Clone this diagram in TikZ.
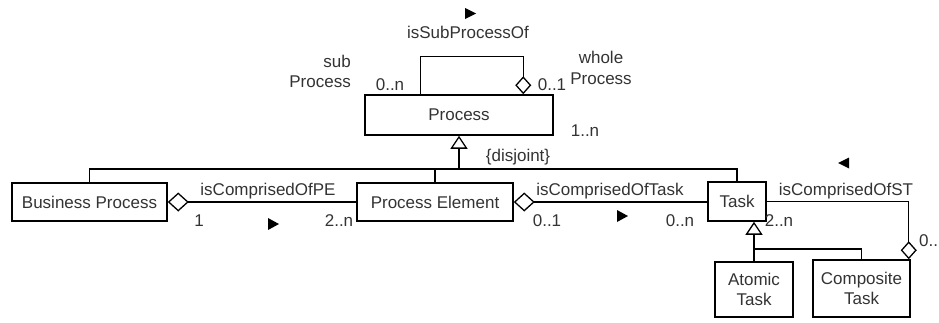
\documentclass[tikz,border=0pt]{standalone}
\usepackage{fontspec}
\setmainfont{Liberation Sans}
\usetikzlibrary{arrows.meta,calc}
\definecolor{txt}{gray}{0.2}
\tikzset{
  aggtip/.tip={Diamond[open, fill=white, length=21pt, width=19pt]},
  aggstip/.tip={Diamond[open, fill=white, length=18pt, width=16pt]},
  gentip/.tip={Triangle[open, fill=white, length=13pt, width=17pt]}
}
\begin{document}
\begin{tikzpicture}[x=1pt,y=-1pt,
  font=\fontsize{17}{20.5}\selectfont,
  cls/.style={draw, line width=1.5pt, rectangle, inner sep=0pt, align=center, text=txt},
  lbl/.style={inner sep=0pt, align=center, text=txt},
  conn/.style={line width=1.3pt}
]
\useasboundingbox (0,0) rectangle (939,322);

% classes
\node[cls, minimum width=188pt, minimum height=40pt] (proc) at (459,115) {Process};
\node[cls, minimum width=155pt, minimum height=38pt] (bp) at (89.5,202) {Business Process};
\node[cls, minimum width=156pt, minimum height=38pt] (pe) at (435,202) {Process Element};
\node[cls, minimum width=58pt, minimum height=39pt] (task) at (737,201.5) {Task};
\node[cls, minimum width=78pt, minimum height=55pt] (atomic) at (754,289.5) {Atomic\\Task};
\node[cls, minimum width=97pt, minimum height=57pt] (comp) at (861.5,288.5) {Composite\\Task};

% recursive aggregation on Process
\draw[conn, -aggstip] ([xshift=56pt]proc.north west) -- ++(0,-38)
  -| ([xshift=159pt]proc.north west);

% generalization of Process
\coordinate (bar) at (0,169);
\draw[conn] (bp.north) |- (bar -| task.north) -- (task.north);
\draw[conn] (pe.north) -- (pe.north |- bar);
\draw[conn, -gentip] (proc.south |- bar) -- (proc.south);

% aggregations
\draw[conn, aggtip-] (bp.east) -- (pe.west);
\draw[conn, aggtip-] (pe.east) -- (pe.east -| task.west);
\draw[conn, -aggstip] (task.east) -| ([xshift=-2pt]comp.north east);

% generalization of Task
\coordinate (bar2) at (0,249);
\draw[conn, -gentip] (atomic.north) -- (atomic.north |- task.south);
\draw[conn] (atomic.north |- bar2) -| (comp.north);

% reading-direction markers
\fill (465,8) -- (476,13.5) -- (465,19) -- cycle;
\fill (268,218) -- (279,224) -- (268,230) -- cycle;
\fill (617,210) -- (628,216) -- (617,222) -- cycle;
\fill (849,157.5) -- (838,163) -- (849,168.5) -- cycle;

% labels
\node[lbl] (lsub) at (468,32) {isSubProcessOf};
\node[lbl, align=right, anchor=east] (lsp) at (351,71.5) {sub\\Process};
\node[lbl] (lwp) at (601,68) {whole\\Process};
\node[lbl] (m1) at (390,85) {0..n};
\node[lbl] (m2) at (552,85) {0..1};
\node[lbl] (m3) at (585,131) {1..n};
\node[lbl] (ldis) at (518,157) {\{disjoint\}};
\node[lbl] (lpe) at (268,191) {isComprisedOfPE};
\node[lbl] (m4) at (199,221) {1};
\node[lbl] (m5) at (339,221) {2..n};
\node[lbl] (ltask) at (610,191) {isComprisedOfTask};
\node[lbl] (m6) at (547,221) {0..1};
\node[lbl] (m7) at (680,221) {0..n};
\node[lbl] (m8) at (779,221) {2..n};
\node[lbl] (lst) at (846,191) {isComprisedOfST};
\node[lbl, anchor=west] (m9) at (919,241) {0..};
\end{tikzpicture}
\end{document}
